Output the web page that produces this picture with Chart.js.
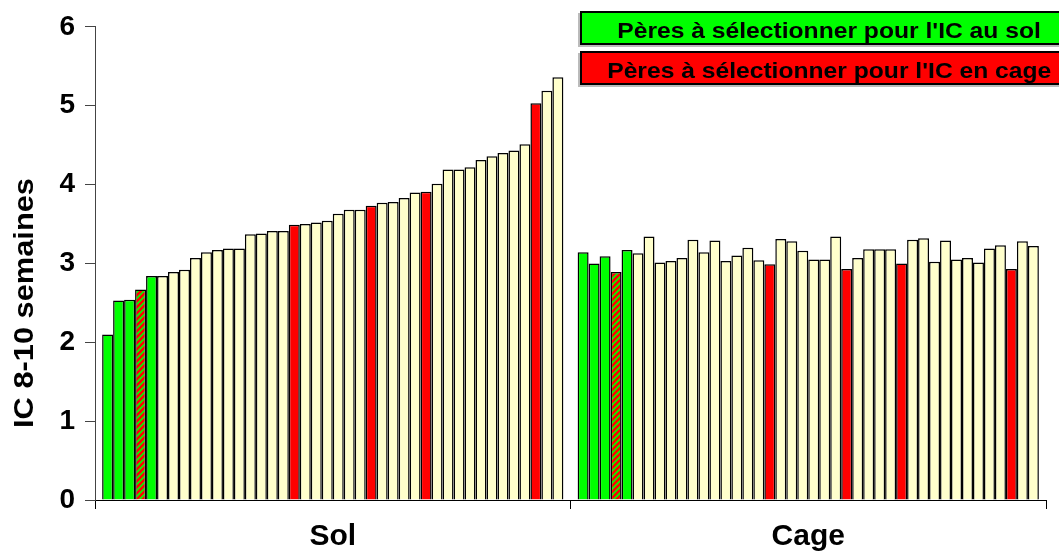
<!DOCTYPE html>
<html>
<head>
<meta charset="utf-8">
<script src="https://cdn.jsdelivr.net/npm/chart.js@4.4.0/dist/chart.umd.min.js"></script>
<style>
  body { margin: 0; background: #fff; overflow: hidden; }
  #wrap { position: relative; width: 1059px; height: 554px; }
  .key {
    position: absolute; left: 580px; width: 494px; height: 30px;
    border: 2px solid #000; box-shadow: -2px 2px 0 #bbb;
    font: bold 22px Arial, "Liberation Sans", sans-serif; color: #000;
    text-align: center; line-height: 30px; white-space: nowrap;
  }
  .key span { display: inline-block; position: relative; top: 3px; transform: scaleX(1.12); }
</style>
</head>
<body>
<div id="wrap">
  <canvas id="myChart" width="1059" height="554"></canvas>
  <div class="key" style="top:11px;background:#00ff00;"><span>Pères à sélectionner pour l'IC au sol</span></div>
  <div class="key" style="top:51px;background:#ff0000;"><span>Pères à sélectionner pour l'IC en cage</span></div>
</div>
<script>
const categories = ['Sol', 'Cage'];

// IC 8-10 semaines, one value per père, in the order drawn
const solValues = [2.10, 2.53, 2.54, 2.67, 2.84, 2.84, 2.89, 2.92, 3.07, 3.14, 3.17, 3.19, 3.19, 3.37,
  3.38, 3.41, 3.41, 3.49, 3.50, 3.52, 3.54, 3.63, 3.68, 3.68, 3.73, 3.77, 3.78, 3.83,
  3.90, 3.91, 4.01, 4.19, 4.19, 4.22, 4.31, 4.36, 4.40, 4.43, 4.51, 5.03, 5.19, 5.36];
const cageValues = [3.14, 3.00, 3.09, 2.89, 3.17, 3.13, 3.34, 3.01, 3.03, 3.07, 3.30, 3.14, 3.29, 3.03,
  3.10, 3.20, 3.04, 2.99, 3.31, 3.28, 3.16, 3.05, 3.05, 3.34, 2.93, 3.07, 3.18, 3.18,
  3.18, 3.00, 3.30, 3.32, 3.02, 3.29, 3.05, 3.07, 3.01, 3.19, 3.23, 2.93, 3.28, 3.22];

// selected pères (indices)
const solPickSol = [0, 1, 2, 4];
const solPickBoth = [3];
const solPickCage = [17, 24, 29, 39];
const cagePickSol = [0, 1, 2, 4];
const cagePickBoth = [3];
const cagePickCage = [17, 24, 29, 39];

const yTicks = [0, 1, 2, 3, 4, 5, 6];

const FONT = 'Arial, "Liberation Sans", sans-serif';

function makeHatch() {
  const p = document.createElement('canvas');
  p.width = 6; p.height = 6;
  const g = p.getContext('2d');
  g.fillStyle = '#00ff00';
  g.fillRect(0, 0, 6, 6);
  g.strokeStyle = '#ff0000';
  g.lineWidth = 2.6;
  g.beginPath();
  g.moveTo(-3, 3); g.lineTo(3, -3);
  g.moveTo(0, 6); g.lineTo(6, 0);
  g.moveTo(3, 9); g.lineTo(9, 3);
  g.stroke();
  return g.createPattern(p, 'repeat');
}
const hatch = makeHatch();

function colorFor(i, greens, both, reds) {
  if (both.includes(i)) return hatch;
  if (greens.includes(i)) return '#00ff00';
  if (reds.includes(i)) return '#ff0000';
  return '#ffffcc';
}

const datasets = solValues.map((v, i) => ({
  data: [v, cageValues[i]],
  backgroundColor: [
    colorFor(i, solPickSol, solPickBoth, solPickCage),
    colorFor(i, cagePickSol, cagePickBoth, cagePickCage)
  ],
  borderColor: '#000',
  borderWidth: 1.5,
  categoryPercentage: 0.97,
  barPercentage: 1.0
}));

const yTitle = {
  id: 'yTitle',
  afterDraw(chart) {
    const c = chart.ctx;
    c.save();
    c.translate(25, 303);
    c.rotate(-Math.PI / 2);
    c.scale(1.1, 1);
    c.font = 'bold 28px ' + FONT;
    c.fillStyle = '#000';
    c.textAlign = 'center';
    c.textBaseline = 'middle';
    c.fillText('IC 8-10 semaines', 0, 0);
    c.restore();
  }
};

const ctx = document.getElementById('myChart').getContext('2d');
const myChart = new Chart(ctx, {
  type: 'bar',
  data: { labels: categories, datasets: datasets },
  options: {
    responsive: false,
    animation: false,
    layout: { padding: { top: 19, right: 13, bottom: 0, left: 0 } },
    plugins: { legend: { display: false }, tooltip: { enabled: false } },
    scales: {
      x: {
        grid: { display: true, drawOnChartArea: false, drawTicks: true, tickLength: 9, color: '#000', offset: true },
        border: { display: true, color: '#000', width: 1 },
        ticks: { font: { family: FONT, size: 30, weight: 'bold' }, color: '#000', padding: 10 },
        afterFit(s) { s.height = 54; }
      },
      y: {
        min: yTicks[0],
        max: yTicks[yTicks.length - 1],
        afterBuildTicks(s) { s.ticks = yTicks.map(v => ({ value: v })); },
        grid: { display: true, drawOnChartArea: false, drawTicks: true, tickLength: 10, color: '#444' },
        border: { display: true, color: '#444', width: 1 },
        ticks: { font: { family: FONT, size: 28, weight: 'bold' }, color: '#000', padding: 10 },
        afterFit(s) { s.width = 95; }
      }
    }
  },
  plugins: [yTitle]
});
</script>
</body>
</html>
